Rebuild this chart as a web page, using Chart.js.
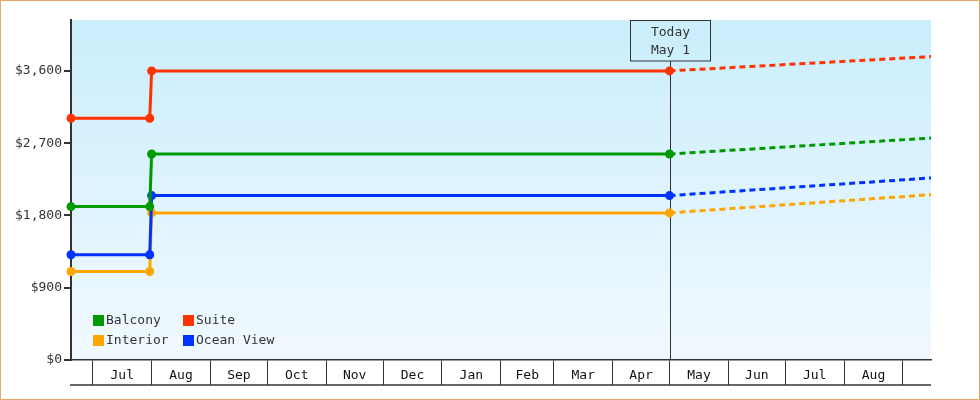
<!DOCTYPE html>
<html><head><meta charset="utf-8">
<script src="https://cdn.jsdelivr.net/npm/chart.js@4"></script>
<style>html,body{margin:0;padding:0;background:#fff}canvas{display:block}</style>
</head><body>
<canvas id="c" width="980" height="400"></canvas>
<script>
// ---- data (x values are days counted from Jul 1) ----
const days      = [-11.5, 30, 31, 304, 441.8];
const balcony   = [1910, 1910, 2565, 2565, 2764];
const suite     = [3010, 3010, 3600, 3600, 3778];
const oceanView = [1310, 1310, 2047, 2047, 2267];
const interior  = [1102, 1102, 1832, 1832, 2059];
const monthStarts = [0, 31, 62, 92, 123, 153, 184, 215, 243, 274, 304, 335, 365, 396, 427];
const monthLabels = ['Jul','Aug','Sep','Oct','Nov','Dec','Jan','Feb','Mar','Apr','May','Jun','Jul','Aug'];
const yTicks = [0, 900, 1800, 2700, 3600];
const xRange = [-11.5, 441.8];
const yMax = 4234;
const todayDay = 304;
const todayLabel = ['Today', 'May 1'];
const forecastFromIndex = 3;
const legendOrder = ['Balcony', 'Suite', 'Interior', 'Ocean View'];

const FONT_FAMILY = '"DejaVu Sans Mono", monospace';
const INK = '#333333';

function pts(vals){ return days.map((d,i)=>({x:d, y:vals[i]})); }
function series(label, vals, color){
  return {
    label, data: pts(vals), borderColor: color, backgroundColor: color,
    borderWidth: 3, tension: 0, fill: false, clip: 8,
    pointRadius: c => c.dataIndex <= forecastFromIndex ? 4.5 : 0,
    pointHoverRadius: 0, pointBorderWidth: 0, pointBackgroundColor: color,
    segment: { borderDash: c => c.p0DataIndex >= forecastFromIndex ? [6,4] : undefined }
  };
}
const datasets = [
  series('Suite', suite, '#ff3300'),
  series('Balcony', balcony, '#009900'),
  series('Ocean View', oceanView, '#0033ff'),
  series('Interior', interior, '#ffa500')
];

const midpoints = monthLabels.map((m,i)=>(monthStarts[i]+monthStarts[i+1])/2);

const deco = {
  id: 'deco',
  beforeDraw(chart){
    const {ctx, chartArea:a} = chart;
    ctx.save();
    const g = ctx.createLinearGradient(0, a.top, 0, a.bottom);
    g.addColorStop(0, '#caeefc');
    g.addColorStop(1, '#f1f9ff');
    ctx.fillStyle = g;
    ctx.fillRect(a.left, a.top, a.right - a.left, a.bottom - a.top);
    ctx.restore();
  },
  beforeDatasetsDraw(chart){
    const {ctx, chartArea:a, scales} = chart;
    const x = Math.round(scales.x.getPixelForValue(todayDay)) + 0.5;
    ctx.save();
    ctx.strokeStyle = INK; ctx.lineWidth = 1;
    ctx.beginPath(); ctx.moveTo(x, a.top + 41); ctx.lineTo(x, a.bottom); ctx.stroke();
    ctx.restore();
  },
  afterDatasetsDraw(chart){
    const {ctx, chartArea:a, scales} = chart;
    ctx.save();
    // Today box
    const x = Math.round(scales.x.getPixelForValue(todayDay)) + 0.5;
    ctx.strokeStyle = INK; ctx.lineWidth = 1;
    ctx.strokeRect(x - 40, a.top + 0.5, 80, 40.5);
    ctx.fillStyle = INK;
    ctx.font = '13px ' + FONT_FAMILY;
    ctx.textAlign = 'center'; ctx.textBaseline = 'middle';
    ctx.fillText(todayLabel[0], x, a.top + 13);
    ctx.fillText(todayLabel[1], x, a.top + 31);
    // legend
    ctx.textAlign = 'left';
    legendOrder.forEach((name, i) => {
      const ds = chart.data.datasets.find(d => d.label === name);
      const col = i % 2, row = Math.floor(i / 2);
      const bx = a.left + 22 + col * 90;
      const by = a.bottom - 45 + row * 20;
      ctx.fillStyle = ds.borderColor;
      ctx.fillRect(bx, by, 11, 11);
      ctx.fillStyle = INK;
      ctx.fillText(name, bx + 13, by + 6);
    });
    ctx.restore();
  },
  afterDraw(chart){
    const {ctx, chartArea:a} = chart;
    ctx.save();
    ctx.strokeStyle = INK; ctx.lineWidth = 1.5;
    ctx.beginPath(); ctx.moveTo(a.left - 1, a.bottom + 25); ctx.lineTo(a.right, a.bottom + 25); ctx.stroke();
    ctx.strokeStyle = '#e8a866'; ctx.lineWidth = 1;
    ctx.strokeRect(0.5, 0.5, chart.width - 1, chart.height - 1);
    ctx.restore();
  }
};

new Chart(document.getElementById('c'), {
  type: 'line',
  data: { datasets },
  plugins: [deco],
  options: {
    responsive: false, animation: false,
    layout: { padding: { top: 20, right: 49, bottom: 0, left: 0 } },
    plugins: { legend: { display: false }, tooltip: { enabled: false } },
    scales: {
      x: {
        type: 'linear', min: xRange[0], max: xRange[1],
        afterBuildTicks: s => {
          const vals = monthStarts.concat(midpoints).sort((p,q)=>p-q);
          s.ticks = vals.map(v => ({ value: v }));
        },
        afterFit: s => { s.height = 40; },
        grid: {
          drawOnChartArea: false, drawTicks: true, tickLength: 25, lineWidth: 1,
          color: c => (c.tick && monthStarts.includes(c.tick.value)) ? INK : 'rgba(0,0,0,0)'
        },
        border: { display: true, color: INK, width: 1.5 },
        ticks: {
          autoSkip: false, maxRotation: 0, minRotation: 0, padding: -17,
          color: '#111', font: { family: FONT_FAMILY, size: 13 },
          callback: v => { const i = midpoints.indexOf(v); return i >= 0 ? monthLabels[i] : ''; }
        }
      },
      y: {
        type: 'linear', min: 0, max: yMax,
        afterBuildTicks: s => { s.ticks = yTicks.map(v => ({ value: v })); },
        afterFit: s => { s.width = 71; },
        grid: { drawOnChartArea: false, drawTicks: true, tickLength: 7, color: INK, lineWidth: 2 },
        border: { display: true, color: INK, width: 2 },
        ticks: {
          padding: 2, color: INK, font: { family: FONT_FAMILY, size: 13 },
          callback: v => '$' + v.toLocaleString('en-US')
        }
      }
    }
  }
});
</script>
</body></html>
